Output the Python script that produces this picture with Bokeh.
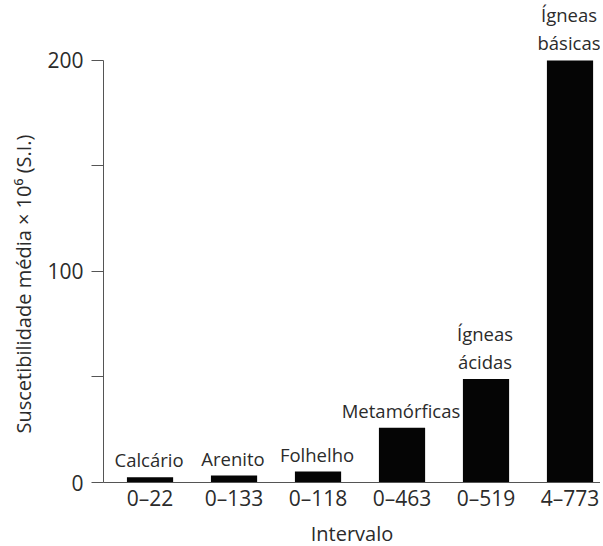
from bokeh.plotting import figure
from bokeh.models import ColumnDataSource, FixedTicker, Range1d, Title
from bokeh.core.properties import value
from bokeh.embed import file_html
from bokeh.resources import INLINE

categorias = ["Calcário", "Arenito", "Folhelho", "Metamórficas", "Ígneas\nácidas", "Ígneas\nbásicas"]
valores = [2.5, 3.3, 5.2, 26, 49, 200]
intervalos = ["0–22", "0–133", "0–118", "0–463", "0–519", "4–773"]
posicoes = list(range(len(categorias)))

FONT = "Open Sans"
TXT = "#2b2b2b"

src = ColumnDataSource(dict(x=posicoes, top=valores, rotulo=categorias))

p = figure(frame_width=497, frame_height=482, output_backend="svg", toolbar_location=None,
           x_range=Range1d(-0.554, 5.363), y_range=Range1d(0, 228.4),
           min_border_left=103, min_border_right=0, min_border_top=0, min_border_bottom=0)
p.outline_line_color = None
p.grid.visible = False
p.background_fill_color = "white"

p.vbar(x="x", top="top", bottom=0, width=0.55, source=src, fill_color="#050505", line_color=None)
p.text(x="x", y="top", text="rotulo", source=src, text_align="center", text_baseline="bottom",
       x_offset=-1, y_offset=-5, text_font=value(FONT), text_font_size="18.5px", text_color=TXT,
       text_line_height=1.12)

# y axis
ya = p.yaxis[0]
ya.ticker = FixedTicker(ticks=[0, 100, 200], minor_ticks=[50, 150])
ya.bounds = (0, 200)
ya.major_tick_out = 12
ya.major_tick_in = 0
ya.minor_tick_out = 12
ya.minor_tick_in = 0
ya.axis_line_color = "#555555"
ya.major_tick_line_color = "#555555"
ya.minor_tick_line_color = "#555555"
ya.major_label_standoff = 8
ya.major_label_text_font = FONT
ya.major_label_text_font_size = "21px"
ya.major_label_text_color = TXT

# x axis
xa = p.xaxis[0]
xa.ticker = FixedTicker(ticks=posicoes)
xa.major_label_overrides = {i: s for i, s in zip(posicoes, intervalos)}
xa.major_tick_line_color = None
xa.minor_tick_line_color = None
xa.major_tick_out = 0
xa.major_tick_in = 0
xa.minor_tick_out = 0
xa.minor_tick_in = 0
xa.axis_line_color = "#555555"
xa.major_label_standoff = 1
xa.major_label_text_font = FONT
xa.major_label_text_font_size = "21px"
xa.major_label_text_color = TXT
xa.axis_label = "Intervalo"
xa.axis_label_text_font = FONT
xa.axis_label_text_font_size = "20px"
xa.axis_label_text_font_style = "normal"
xa.axis_label_text_color = TXT
xa.axis_label_standoff = 5

p.add_layout(Title(text="Suscetibilidade média × 10⁶ (S.I.)", align="left", offset=49,
                   text_font=FONT, text_font_size="20px", text_font_style="normal",
                   text_color=TXT, standoff=15), "left")

open("out.html", "w").write(file_html(p, INLINE))
